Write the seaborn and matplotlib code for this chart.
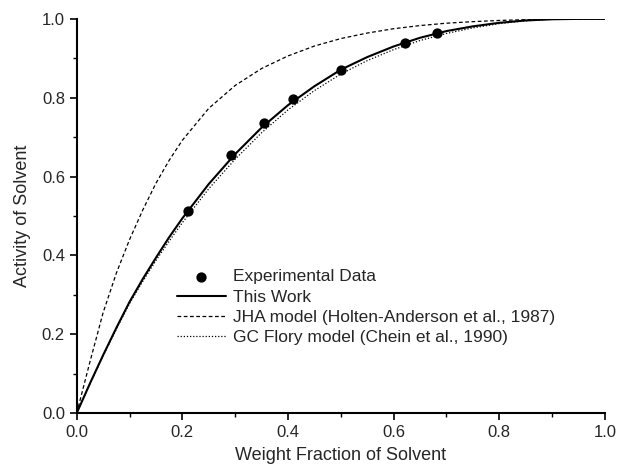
import matplotlib
matplotlib.use("Agg")
import matplotlib.pyplot as plt
import seaborn as sns
import pandas as pd
from matplotlib.ticker import MultipleLocator

# Experimental data
exp_x = [0.21, 0.292, 0.355, 0.41, 0.50, 0.621, 0.682]
exp_y = [0.513, 0.655, 0.735, 0.796, 0.871, 0.940, 0.963]

# This Work (solid)
tw_x = [0.0, 0.025, 0.05, 0.075, 0.1, 0.125, 0.15, 0.175, 0.2, 0.25, 0.3, 0.35, 0.4, 0.45, 0.5, 0.55, 0.6, 0.65, 0.7, 0.75, 0.8, 0.85, 0.9, 0.95, 1.0]
tw_y = [0.0, 0.075, 0.147, 0.216, 0.282, 0.340, 0.394, 0.446, 0.494, 0.581, 0.657, 0.724, 0.781, 0.829, 0.871, 0.903, 0.930, 0.952, 0.969, 0.981, 0.990, 0.996, 0.999, 1.0, 1.0]

# JHA model (dashed)
jha_x = [0.0, 0.025, 0.05, 0.075, 0.1, 0.125, 0.15, 0.175, 0.2, 0.25, 0.3, 0.35, 0.4, 0.45, 0.5, 0.55, 0.6, 0.65, 0.7, 0.75, 0.8, 0.85, 0.9, 1.0]
jha_y = [0.0, 0.13, 0.255, 0.355, 0.44, 0.515, 0.583, 0.641, 0.692, 0.773, 0.831, 0.874, 0.906, 0.931, 0.950, 0.964, 0.975, 0.983, 0.989, 0.993, 0.996, 0.998, 0.999, 1.0]

# GC Flory model (dotted)
gc_x = [0.0, 0.025, 0.05, 0.075, 0.1, 0.125, 0.15, 0.175, 0.2, 0.25, 0.3, 0.35, 0.4, 0.45, 0.5, 0.55, 0.6, 0.65, 0.7, 0.75, 0.8, 0.85, 0.9, 0.95, 1.0]
gc_y = [0.0, 0.074, 0.145, 0.213, 0.278, 0.334, 0.387, 0.436, 0.483, 0.569, 0.644, 0.711, 0.769, 0.818, 0.860, 0.894, 0.922, 0.945, 0.963, 0.977, 0.988, 0.995, 0.999, 1.0, 1.0]

labels = ["Experimental Data", "This Work",
          "JHA model (Holten-Anderson et al., 1987)",
          "GC Flory model (Chein et al., 1990)"]

sns.set_style("ticks")
plt.rcParams['font.family'] = ['Liberation Sans', 'DejaVu Sans']

fig = plt.figure(figsize=(6.19, 4.72), dpi=100)
ax = fig.add_axes([0.124, 0.125, 0.853, 0.835])

sns.scatterplot(x=exp_x, y=exp_y, ax=ax, color="black", s=55, edgecolor="black",
                linewidth=0, label=labels[0], zorder=5)
sns.lineplot(x=tw_x, y=tw_y, ax=ax, color="black", linewidth=1.5, label=labels[1])
sns.lineplot(x=jha_x, y=jha_y, ax=ax, color="black", linewidth=0.9, label=labels[2])
ax.lines[-1].set_linestyle((0, (3, 2)))
sns.lineplot(x=gc_x, y=gc_y, ax=ax, color="black", linewidth=0.9, label=labels[3])
ax.lines[-1].set_linestyle((0, (1, 1.5)))

ax.set_xlim(0, 1.0)
ax.set_ylim(0, 1.0)
ax.xaxis.set_major_locator(MultipleLocator(0.2))
ax.xaxis.set_minor_locator(MultipleLocator(0.1))
ax.yaxis.set_major_locator(MultipleLocator(0.2))
ax.yaxis.set_minor_locator(MultipleLocator(0.1))
ax.tick_params(which="major", direction="out", length=5, width=1.2, labelsize=12, color="black")
ax.tick_params(which="minor", direction="out", length=3, width=1.0, color="black")
for s in ["left", "bottom"]:
    ax.spines[s].set_linewidth(1.5)
    ax.spines[s].set_color("black")
sns.despine(ax=ax)

ax.set_xlabel("Weight Fraction of Solvent", fontsize=13, labelpad=5)
ax.set_ylabel("Activity of Solvent", fontsize=13, labelpad=8)

ax.legend(loc="upper left", bbox_to_anchor=(0.19, 0.365), frameon=False,
          fontsize=12.5, borderpad=0, borderaxespad=0, handlelength=2.8,
          handletextpad=0.4, labelspacing=0.3)

fig.savefig("out.png", dpi=100)
